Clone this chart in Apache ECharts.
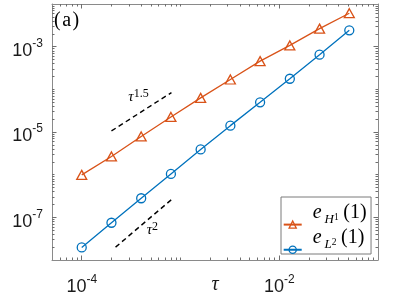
<!DOCTYPE html>
<html>
<head>
<meta charset="utf-8">
<script src="https://cdn.jsdelivr.net/npm/echarts@6/dist/echarts.min.js"></script>
<style>html,body{margin:0;padding:0;background:#fff}#c{width:395px;height:296px}</style>
</head>
<body>
<div id="c"></div>
<script>
// ---- data ----
const tau = [1e-4, 2e-4, 4e-4, 8e-4, 1.6e-3, 3.2e-3, 6.4e-3, 1.28e-2, 2.56e-2, 5.12e-2];
const errH1 = [9.9e-7, 2.67e-6, 7.87e-6, 2.25e-5, 6.3e-5, 1.70e-4, 4.58e-4, 1.07e-3, 2.65e-3, 6.08e-3];
const errL2 = [1.97e-8, 7.46e-8, 2.80e-7, 1.04e-6, 3.90e-6, 1.41e-5, 4.97e-5, 1.77e-4, 6.48e-4, 2.42e-3];
const ref15Tau = [2.0e-4, 8.1e-4];
const ref15Val = [1.06e-5, 8.4e-5];
const ref2Tau = [2.2e-4, 8.1e-4];
const ref2Val = [2.0e-8, 2.6e-7];
const xMajorTicks = [1e-4, 1e-2];
const yMajorTicks = [1e-7, 1e-5, 1e-3];
const xRange = [5e-5, 0.1];
const yRange = [1e-8, 1e-2];
const seriesNames = ['eH1', 'eL2'];

const ORANGE = '#D95319', BLUE = '#0072BD', AXIS = '#8a8a8a', TICK = '#6e6e6e', TXT = '#1a1a1a';

function minorTicks(lo, hi, majors) {
  const out = [];
  for (let e = Math.floor(Math.log10(lo)); e <= Math.ceil(Math.log10(hi)); e++) {
    for (let m = 1; m <= 9; m++) {
      const v = +(m * Math.pow(10, e)).toPrecision(6);
      if (v > lo * 1.0001 && v < hi * 0.9999 && !majors.some(t => Math.abs(t / v - 1) < 1e-6)) out.push(v);
    }
  }
  return out;
}
const xMinor = minorTicks(xRange[0], xRange[1], xMajorTicks);
const yMinor = minorTicks(yRange[0], yRange[1], yMajorTicks);

const pairs = (xs, ys) => xs.map((x, i) => [x, ys[i]]);

const expLabel = v => '{b|10}{s|' + Math.round(Math.log10(v)) + '}';
const labelRich = {
  b: { fontFamily: 'Liberation Sans', fontSize: 18, lineHeight: 1, padding: [9, 0, 0, 0], verticalAlign: 'middle', color: TXT },
  s: { fontFamily: 'Liberation Sans', fontSize: 12, lineHeight: 1, padding: [0, 0, 6, 0], verticalAlign: 'middle', color: TXT }
};

function xAx(pos, ticks, len, showLine, labels) {
  return {
    type: 'log', position: pos, min: xRange[0], max: xRange[1], gridIndex: 0,
    axisLine: { show: showLine, onZero: false, lineStyle: { color: AXIS, width: 1 } },
    axisTick: { show: true, inside: true, length: len, customValues: ticks, lineStyle: { color: TICK, width: 1 } },
    axisLabel: labels ? { show: true, customValues: ticks, formatter: expLabel, rich: labelRich, margin: 22 } : { show: false },
    splitLine: { show: false }, minorTick: { show: false }
  };
}
function yAx(pos, ticks, len, showLine, labels) {
  return {
    type: 'log', position: pos, min: yRange[0], max: yRange[1], gridIndex: 0,
    axisLine: { show: showLine, onZero: false, lineStyle: { color: AXIS, width: 1 } },
    axisTick: { show: true, inside: true, length: len, customValues: ticks, lineStyle: { color: TICK, width: 1 } },
    axisLabel: labels ? { show: true, customValues: ticks, formatter: expLabel, rich: labelRich, margin: 9 } : { show: false },
    splitLine: { show: false }, minorTick: { show: false }
  };
}

const xMain = xAx('bottom', xMajorTicks, 4.5, true, true);
xMain.name = 'τ';
xMain.nameLocation = 'middle';
xMain.nameGap = 15;
xMain.nameMoveOverlap = false;
xMain.nameTextStyle = { fontFamily: 'Liberation Serif', fontStyle: 'italic', fontSize: 20, color: TXT };

const legendNames = {
  eH1: '{e|e}{i|H}{s|1}{p|(1)}',
  eL2: '{e|e}{i|L}{s|2}{p|(1)}'
};
const LH = 2;
const legendRich = {
  e: { fontFamily: 'Liberation Serif', fontStyle: 'italic', fontSize: 20, lineHeight: LH, height: 26.4, padding: [0, 3, 0, 6], verticalAlign: 'bottom', color: '#000' },
  i: { fontFamily: 'Liberation Serif', fontStyle: 'italic', fontSize: 13, lineHeight: LH, height: 12, verticalAlign: 'bottom', color: '#000' },
  s: { fontFamily: 'Liberation Serif', fontSize: 9.5, lineHeight: LH, height: 16.5, padding: [0, 1.5, 0, 0], verticalAlign: 'bottom', color: '#000' },
  p: { fontFamily: 'Liberation Serif', fontSize: 20, lineHeight: LH, height: 26.4, padding: [0, 0, 0, 3], verticalAlign: 'bottom', color: '#000' }
};

const annRich = {
  t: { fontFamily: 'Liberation Serif', fontStyle: 'italic', fontSize: 15, lineHeight: 1, padding: [7, 0, 0, 0], verticalAlign: 'middle', fill: '#000', color: '#000' },
  s: { fontFamily: 'Liberation Serif', fontSize: 12, lineHeight: 1, verticalAlign: 'middle', fill: '#000', color: '#000' }
};
const aRich = {
  p: { fontFamily: 'Liberation Serif', fontSize: 20, color: '#000', fill: '#000' },
  a: { fontFamily: 'Liberation Serif', fontSize: 20, padding: [0, 1.5, 0, 1.5], color: '#000', fill: '#000' }
};

const chart = echarts.init(document.getElementById('c'), null, { renderer: 'canvas' });
chart.setOption({
  animation: false,
  backgroundColor: '#fff',
  grid: { left: 52, right: 17, top: 4, bottom: 36, containLabel: false, outerBoundsMode: 'none' },
  xAxis: [
    xMain,
    xAx('bottom', xMinor, 2.5, false, false),
    xAx('top', xMajorTicks, 4.5, true, false),
    xAx('top', xMinor, 2.5, false, false)
  ],
  yAxis: [
    yAx('left', yMajorTicks, 4.5, true, true),
    yAx('left', yMinor, 2.5, false, false),
    yAx('right', yMajorTicks, 4.5, true, false),
    yAx('right', yMinor, 2.5, false, false)
  ],
  legend: {
    data: seriesNames, orient: 'vertical', left: 281, top: 197,
    itemWidth: 18, itemHeight: 9, itemGap: -4.5,
    padding: [2.2, 4.5, 0, 1.7],
    borderColor: '#7a7a7a', borderWidth: 1, backgroundColor: '#fff',
    selectedMode: false,
    formatter: name => legendNames[name],
    textStyle: { rich: legendRich },
    itemStyle: { borderWidth: 1.3 }
  },
  graphic: [
    { type: 'text', x: 54, y: 20.5, style: { text: '{p|(}{a|a}{p|)}', rich: aRich, verticalAlign: 'middle' } },
    { type: 'text', x: 128.3, y: 93.6, style: { text: '{t|τ}{s|1.5}', rich: annRich, verticalAlign: 'middle' } },
    { type: 'text', x: 146.7, y: 226.9, style: { text: '{t|τ}{s|2}', rich: annRich, verticalAlign: 'middle' } }
  ],
  series: [
    { type: 'line', name: 'ref15', data: pairs(ref15Tau, ref15Val), symbol: 'none', silent: true,
      lineStyle: { color: '#000', width: 1.4, type: [5, 3.5] } },
    { type: 'line', name: 'ref2', data: pairs(ref2Tau, ref2Val), symbol: 'none', silent: true,
      lineStyle: { color: '#000', width: 1.4, type: [5, 3.5] } },
    { type: 'line', name: 'eH1', data: pairs(tau, errH1), symbol: 'triangle', symbolSize: [10, 9],
      lineStyle: { color: ORANGE, width: 1.3 },
      itemStyle: { color: 'rgba(0,0,0,0)', borderColor: ORANGE, borderWidth: 1.3 },
      emphasis: { disabled: true } },
    { type: 'line', name: 'eL2', data: pairs(tau, errL2), symbol: 'circle', symbolSize: 9,
      lineStyle: { color: BLUE, width: 1.3 },
      itemStyle: { color: 'rgba(0,0,0,0)', borderColor: BLUE, borderWidth: 1.3 },
      emphasis: { disabled: true } }
  ]
});
</script>
</body>
</html>
